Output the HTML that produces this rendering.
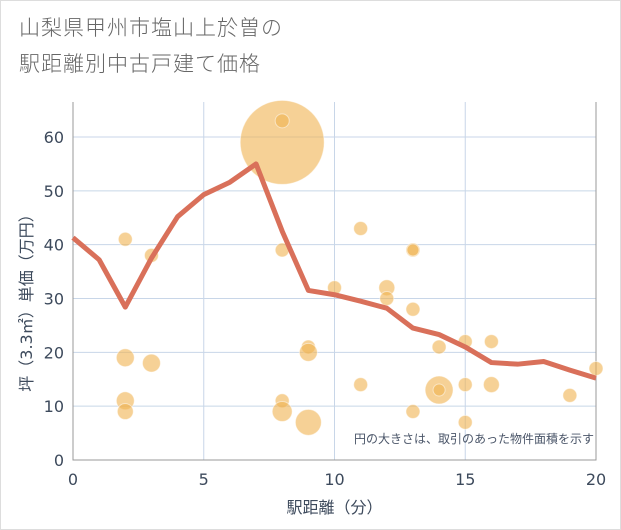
<!DOCTYPE html>
<html><head><meta charset="utf-8"><style>
html,body{margin:0;padding:0;background:#fff;}
#wrap{position:relative;width:619px;height:528px;border:1px solid #ddd;background:#fff;font-family:"Liberation Sans","Noto Sans CJK JP",sans-serif;overflow:hidden;}
.title{position:absolute;left:18px;font-size:21px;color:#666;letter-spacing:1px;font-family:"Noto Sans CJK JP",sans-serif;font-weight:300;line-height:1.2;}
</style></head><body>
<div id="wrap">
<div class="title" style="top:14px">山梨県甲州市塩山上於曽の</div>
<div class="title" style="top:50px">駅距離別中古戸建て価格</div>
<svg id="chart" width="621" height="530" style="position:absolute;left:-1px;top:-1px"></svg>
</div>
<script>
const xTicks=[0,5,10,15,20];
const yTicks=[0,10,20,30,40,50,60];
const lineX=[0,1,2,3,4,5,6,7,8,9,10,11,12,13,14,15,16,17,18,19,20];
const lineY=[41.3,37.2,28.4,37.5,45.2,49.3,51.6,55.0,42.5,31.5,30.7,29.5,28.2,24.5,23.3,21.0,18.1,17.8,18.3,16.7,15.2];
const bubX=[8,2,3,2,3,2,2,8,8,8,8,9,9,9,10,11,11,12,12,13,13,13,13,14,14,14,15,15,15,16,16,19,20];
const bubY=[59,41,38,19,18,11,9,63,39,11,9,21,20,7,32,43,14,32,30,39,39,28,9,21,13,13,22,14,7,22,14,12,17];
const bubR=[42,7,7,9,9,9,8,7,7,7,10,7,9,13,7,7,7,8,7,7,6,7,7,7,14,6,7,7,7,7,8,7,7];
const svg=document.getElementById('chart');const NS='http://www.w3.org/2000/svg';
const L=73,R=596,T=102,B=460;
const FF='"DejaVu Sans","Noto Sans CJK JP",sans-serif';
const sx=v=>L+(v-0)/20*(R-L);
const sy=v=>B-v/60*(B-137);
function mk(t,a){const e=document.createElementNS(NS,t);for(const k in a)e.setAttribute(k,a[k]);svg.appendChild(e);return e;}
xTicks.forEach(v=>{
 const g=mk('line',{x1:sx(v),x2:sx(v),y1:T,y2:B,stroke:'#c8d6e8','stroke-width':1});
 
 
 const t=mk('text',{x:sx(v),y:B+25,'text-anchor':'middle','font-size':16,fill:'#3d4a5c','font-family':FF});t.textContent=v;
 
 
});
yTicks.forEach(v=>{
 const g=mk('line',{x1:L,x2:R,y1:sy(v),y2:sy(v),stroke:'#c8d6e8','stroke-width':1});
 
 
 const t=mk('text',{x:L-9,y:sy(v)+6,'text-anchor':'end','font-size':16,fill:'#3d4a5c','font-family':FF});t.textContent=v;
 
 
});
const ax=mk('path',{d:`M${L},${T}V${B}H${R}V${T}`,fill:'none',stroke:'#999','stroke-width':1});


bubX.forEach((v,i)=>{
 const c=mk('circle',{cx:sx(v),cy:sy(bubY[i]),r:bubR[i],fill:'rgba(240,178,80,0.6)',stroke:'rgba(255,255,255,0.5)','stroke-width':1});
 
 
});
const p=mk('polyline',{points:lineX.map((v,i)=>sx(v)+','+sy(lineY[i])).join(' '),fill:'none',stroke:'#d9705a','stroke-width':5,'stroke-linejoin':'round'});


const n=mk('text',{x:594,y:443,'text-anchor':'end','font-size':12,fill:'#4a5568','font-family':FF});n.textContent='円の大きさは、取引のあった物件面積を示す';


const xt=mk('text',{x:(L+R)/2,y:513,'text-anchor':'middle','font-size':16,fill:'#3d4a5c','font-family':FF});xt.textContent='駅距離（分）';


const yt=mk('text',{x:0,y:0,'text-anchor':'middle','font-size':16,fill:'#3d4a5c','font-family':FF,transform:`translate(32,${(T+B)/2+18}) rotate(-90)`});yt.textContent='坪（3.3㎡）単価（万円）';


</script>
</body></html>
